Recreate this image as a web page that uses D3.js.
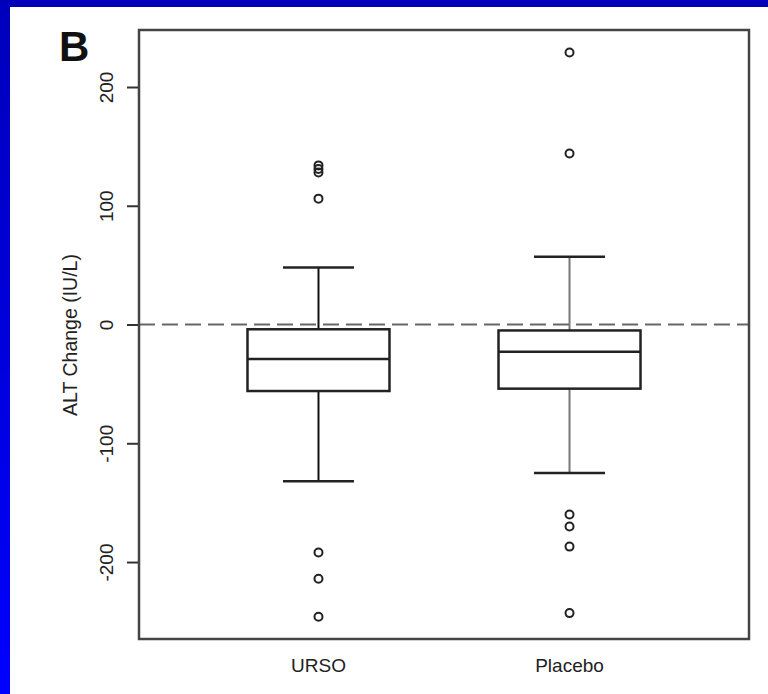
<!DOCTYPE html>
<html><head><meta charset="utf-8">
<script src="https://cdn.jsdelivr.net/npm/d3@7"></script>
<style>html,body{margin:0;padding:0;background:#fff;}svg{display:block;}</style>
</head><body>
<svg id="chart" width="768" height="694"></svg>
<script>
const categories = ["URSO", "Placebo"];
const whiskerHigh = [48, 57];
const q3 = [-4, -5];
const medians = [-29, -23];
const q1 = [-56, -54];
const whiskerLow = [-132, -125];
const outliersURSO = [134, 131, 128, 106, -192, -214, -246];
const outliersPlacebo = [229, 144, -160, -170, -187, -243];
const yTicks = [-200, -100, 0, 100, 200];
const panelLabel = "B";
const yTitle = "ALT Change (IU/L)";

const outliers = [outliersURSO, outliersPlacebo];
const svg = d3.select("#chart");
const L = 139, R = 749, T = 30, B = 639;

// background & blue border
const defs = svg.append("defs");
const g1 = defs.append("linearGradient").attr("id","lb").attr("x1",0).attr("y1",0).attr("x2",0).attr("y2",1);
g1.append("stop").attr("offset","0%").attr("stop-color","#0000bb");
g1.append("stop").attr("offset","100%").attr("stop-color","#0000ff");
svg.append("rect").attr("x",0).attr("y",0).attr("width",768).attr("height",694).attr("fill","#fff");
svg.append("rect").attr("x",0).attr("y",0).attr("width",768).attr("height",7).attr("fill","#0000bb");
svg.append("rect").attr("x",0).attr("y",0).attr("width",10).attr("height",694).attr("fill","url(#lb)");

const y = d3.scaleLinear().domain([-264.8, 248]).range([B, T]);
const x = d3.scalePoint().domain(categories).range([L, R]).padding(0.715);
const boxW = 142, capW = 71;

// zero reference line
svg.append("line").attr("x1",L).attr("x2",R).attr("y1",y(0)).attr("y2",y(0))
  .attr("stroke","#666").attr("stroke-width",2).attr("stroke-dasharray","16,7");

// y axis
const yAxis = d3.axisLeft(y).tickValues(yTicks).tickSize(12).tickFormat(d => String(d));
const ya = svg.append("g").attr("transform",`translate(${L},0)`).call(yAxis);
ya.select(".domain").remove();
ya.selectAll(".tick line").attr("stroke","#333").attr("stroke-width",2);
ya.selectAll(".tick text").attr("font-family","'Liberation Sans', Arial, sans-serif")
  .attr("font-size",19).attr("fill","#222")
  .attr("transform","rotate(-90)").attr("text-anchor","middle")
  .attr("x",0).attr("y",-26).attr("dy",0);

// boxes
const gBox = svg.append("g");
categories.forEach((c,i)=>{
  const cx = x(c);
  const wc = i === 0 ? "#111" : "#777";
  gBox.append("line").attr("x1",cx).attr("x2",cx).attr("y1",y(whiskerHigh[i])).attr("y2",y(q3[i]))
    .attr("stroke",wc).attr("stroke-width",2);
  gBox.append("line").attr("x1",cx).attr("x2",cx).attr("y1",y(q1[i])).attr("y2",y(whiskerLow[i]))
    .attr("stroke",wc).attr("stroke-width",2);
  [whiskerHigh[i], whiskerLow[i]].forEach(v=>{
    gBox.append("line").attr("x1",cx-capW/2).attr("x2",cx+capW/2).attr("y1",y(v)).attr("y2",y(v))
      .attr("stroke","#222").attr("stroke-width",2.5);
  });
  gBox.append("rect").attr("x",cx-boxW/2).attr("width",boxW)
    .attr("y",y(q3[i])).attr("height",y(q1[i])-y(q3[i]))
    .attr("fill","none").attr("stroke","#222").attr("stroke-width",2.5);
  gBox.append("line").attr("x1",cx-boxW/2).attr("x2",cx+boxW/2).attr("y1",y(medians[i])).attr("y2",y(medians[i]))
    .attr("stroke","#222").attr("stroke-width",2.5);
  gBox.selectAll(null).data(outliers[i]).enter().append("circle")
    .attr("cx",cx).attr("cy",d=>y(d)).attr("r",4)
    .attr("fill","none").attr("stroke","#222").attr("stroke-width",2);
});

// frame
svg.append("rect").attr("x",L).attr("y",T).attr("width",R-L).attr("height",B-T)
  .attr("fill","none").attr("stroke","#444").attr("stroke-width",2.5);

// x labels
svg.selectAll(".xl").data(categories).enter().append("text")
  .attr("x",d=>x(d)).attr("y",672).attr("text-anchor","middle")
  .attr("font-family","'Liberation Sans', Arial, sans-serif").attr("font-size",19).attr("fill","#222")
  .text(d=>d);

// y title
svg.append("text").attr("transform","translate(77,335) rotate(-90)").attr("text-anchor","middle")
  .attr("font-family","'Liberation Sans', Arial, sans-serif").attr("font-size",19.5).attr("fill","#222")
  .text(yTitle);

// panel label
svg.append("text").attr("x",59).attr("y",61)
  .attr("font-family","'Liberation Sans', Arial, sans-serif").attr("font-weight","bold")
  .attr("font-size",42).attr("fill","#111").text(panelLabel);
</script>
</body></html>
